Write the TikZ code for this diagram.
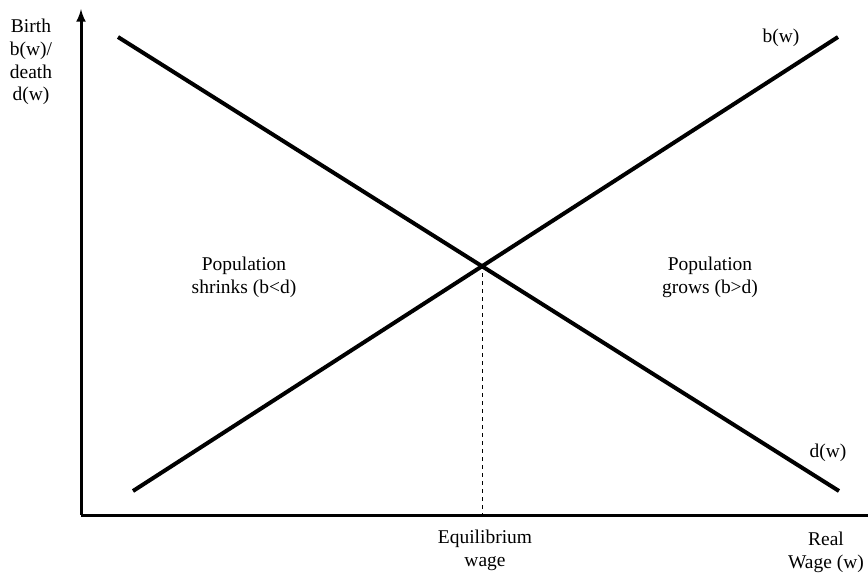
\documentclass[tikz,border=0pt]{standalone}
\usepackage{fontspec}
\setmainfont{Liberation Serif}
\usepackage{tikz}
\usetikzlibrary{positioning}

\begin{document}
\begin{tikzpicture}
    [
    x=0.75pt, y=-0.75pt,
    axis/.style={line width=2.25pt},
    curve/.style={line width=3pt},
    lbl/.style={font=\fontsize{14.6}{17}\selectfont, align=center, inner sep=0pt},
    ]
    \useasboundingbox (0,0) rectangle (868,572);
    % axes
    \coordinate (O) at (81,515);
    \coordinate (ytop) at (81,9);
    \coordinate (xend) at (868,515);
    \draw [axis, -latex] (O) to (ytop);
    \draw [axis] (O) to (xend);

    % birth and death curves
    \coordinate (d1) at (118,37);
    \coordinate (d2) at (839,491);
    \coordinate (b1) at (133,491);
    \coordinate (b2) at (838,37);
    \draw [curve] (d1) to (d2);
    \draw [curve] (b1) to (b2);

    % equilibrium
    \coordinate (eq) at (482,265);
    \coordinate (eqfoot) at (482,515);
    \draw [line width=0.75pt, dash pattern=on 3pt off 3pt] (eq) to (eqfoot);

    \node (ylabel) at (31,62) [lbl] {Birth\\b(w)/\\death\\d(w)};
    \node (blabel) at (781,42) [lbl, anchor=base] {b(w)};
    \node (dlabel) at (828,457) [lbl, anchor=base] {d(w)};
    \node (shrink) at (244,293) [lbl, anchor=base] {Population\\shrinks (b<d)};
    \node (grow) at (710,293) [lbl, anchor=base] {Population\\grows (b>d)};
    \node (eqlabel) at (485,566) [lbl, anchor=base] {Equilibrium\\wage};
    \node (xlabel) at (826,568) [lbl, anchor=base] {Real\\Wage (w)};
\end{tikzpicture}
\end{document}
